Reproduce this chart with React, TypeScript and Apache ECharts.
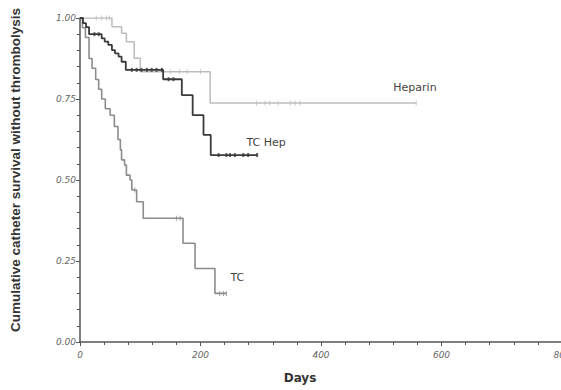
import React, { useEffect, useRef } from "react";
import * as echarts from "echarts";

// Kaplan-Meier step curves (day, survival after the event)
const heparinDays = [0, 53, 69, 77, 90, 100, 216, 558];
const heparinSurv = [1.0, 0.973, 0.953, 0.927, 0.876, 0.834, 0.738, 0.738];

const tcHepDays = [0, 5, 10, 15, 36, 41, 47, 53, 58, 64, 69, 76, 138, 169, 187, 205, 217, 294];
const tcHepSurv = [1.0, 0.984, 0.972, 0.95, 0.937, 0.927, 0.917, 0.901, 0.891, 0.881, 0.865, 0.84, 0.811, 0.762, 0.7, 0.639, 0.577, 0.577];

const tcDays = [0, 4, 9, 15, 20, 26, 31, 36, 42, 50, 57, 63, 67, 69, 74, 77, 83, 86, 94, 105, 171, 191, 224, 243];
const tcSurv = [1.0, 0.97, 0.94, 0.875, 0.845, 0.81, 0.78, 0.75, 0.72, 0.7, 0.665, 0.625, 0.593, 0.562, 0.546, 0.515, 0.5, 0.469, 0.433, 0.382, 0.305, 0.227, 0.15, 0.15];

// censored observations (days)
const heparinCensor = [27, 36, 44, 49, 150, 165, 178, 200, 293, 307, 315, 329, 349, 357, 365, 558];
const tcHepCensor = [24, 31, 86, 94, 102, 111, 119, 127, 136, 147, 155, 230, 243, 249, 257, 271, 279, 294];
const tcCensor = [91, 160, 166, 232, 238, 243];

// curve labels: [day, survival]
const curveNames = ["Heparin", "TC Hep", "TC"];
const labelAnchors = [
  [556, 0.784],
  [309, 0.617],
  [261, 0.198],
];

const xTicks = { min: 0, max: 800, interval: 200 };
const yTicks = { min: 0, max: 1, interval: 0.25 };

function pairs(days: number[], vals: number[]) {
  return days.map((d, i) => [d, vals[i]]);
}
function valueAt(days: number[], vals: number[], day: number) {
  let v = vals[0];
  for (let i = 0; i < days.length; i++) {
    if (days[i] <= day) v = vals[i];
  }
  return v;
}
function censorPts(c: number[], days: number[], vals: number[]) {
  return c.map((d) => [d, valueAt(days, vals, d)]);
}

const HEP = "#bdbdbd";
const TCHEP = "#3a3a3a";
const TC = "#8c8c8c";

export default function App() {
  const ref = useRef<HTMLDivElement>(null);
  useEffect(() => {
    if (!ref.current) return;
    const chart = echarts.init(ref.current, null, { renderer: "svg" });
    const font = "DejaVu Sans, sans-serif";
    const axisColor = "#555";
    chart.setOption({
      animation: false,
      backgroundColor: "#fff",
      grid: { left: 80, right: -1, top: 18, bottom: 48, outerBoundsMode: "none", containLabel: false },
      xAxis: {
        type: "value",
        min: xTicks.min,
        max: xTicks.max,
        interval: xTicks.interval,
        name: "Days",
        nameLocation: "middle",
        nameGap: 30,
        nameTextStyle: {
          fontFamily: font,
          fontWeight: "bold",
          fontSize: 12,
          color: "#333",
          padding: [0, 42, 0, 0],
        },
        axisLine: { show: true, lineStyle: { color: axisColor, width: 1.5 } },
        axisTick: { show: true, length: 4, lineStyle: { color: axisColor } },
        minorTick: { show: true, splitNumber: 5, length: 3, lineStyle: { color: axisColor } },
        splitLine: { show: false },
        axisLabel: {
          fontFamily: font,
          fontStyle: "italic",
          fontSize: 9,
          color: "#666",
          margin: 8,
          formatter: (v: number) => String(v),
        },
      },
      yAxis: {
        type: "value",
        min: yTicks.min,
        max: yTicks.max,
        interval: yTicks.interval,
        name: "Cumulative catheter survival without thrombolysis",
        nameLocation: "middle",
        nameGap: 58,
        nameTextStyle: {
          fontFamily: "Liberation Sans, Arial, sans-serif",
          fontWeight: "bold",
          fontSize: 13.5,
          color: "#333",
          padding: [0, 0, 0, 20],
        },
        axisLine: { show: true, lineStyle: { color: axisColor, width: 1.5 } },
        axisTick: { show: true, length: 4, lineStyle: { color: axisColor } },
        minorTick: { show: true, splitNumber: 5, length: 3, lineStyle: { color: axisColor } },
        splitLine: { show: false },
        axisLabel: {
          fontFamily: font,
          fontStyle: "italic",
          fontSize: 9,
          color: "#666",
          margin: 4,
          formatter: (v: number) => v.toFixed(2),
        },
      },
      series: [
        {
          name: curveNames[0],
          type: "line",
          step: "end",
          data: pairs(heparinDays, heparinSurv),
          showSymbol: false,
          lineStyle: { color: HEP, width: 1.5 },
          z: 2,
          markPoint: {
            symbol: "circle",
            symbolSize: 0,
            label: { show: true, formatter: curveNames[0], fontFamily: font, fontSize: 11, color: "#444", position: "inside" },
            data: [{ coord: labelAnchors[0] }],
          },
        },
        {
          name: curveNames[2],
          type: "line",
          step: "end",
          data: pairs(tcDays, tcSurv),
          showSymbol: false,
          lineStyle: { color: TC, width: 1.6 },
          z: 3,
          markPoint: {
            symbol: "circle",
            symbolSize: 0,
            label: { show: true, formatter: curveNames[2], fontFamily: font, fontSize: 11, color: "#444", position: "inside" },
            data: [{ coord: labelAnchors[2] }],
          },
        },
        {
          name: curveNames[1],
          type: "line",
          step: "end",
          data: pairs(tcHepDays, tcHepSurv),
          showSymbol: false,
          lineStyle: { color: TCHEP, width: 1.8 },
          z: 4,
          markPoint: {
            symbol: "circle",
            symbolSize: 0,
            label: { show: true, formatter: curveNames[1], fontFamily: font, fontSize: 11, color: "#444", position: "inside" },
            data: [{ coord: labelAnchors[1] }],
          },
        },
        {
          type: "scatter",
          data: censorPts(heparinCensor, heparinDays, heparinSurv),
          symbol: "rect",
          symbolSize: [1, 5],
          itemStyle: { color: HEP },
          z: 5,
        },
        {
          type: "scatter",
          data: censorPts(tcCensor, tcDays, tcSurv),
          symbol: "rect",
          symbolSize: [1, 5],
          itemStyle: { color: TC },
          z: 5,
        },
        {
          type: "scatter",
          data: censorPts(tcHepCensor, tcHepDays, tcHepSurv),
          symbol: "rect",
          symbolSize: [2, 4],
          itemStyle: { color: TCHEP },
          z: 6,
        },
      ],
    });
    return () => chart.dispose();
  }, []);
  return <div ref={ref} style={{ width: 561, height: 390, position: "absolute", left: 0, top: 0 }} />;
}
